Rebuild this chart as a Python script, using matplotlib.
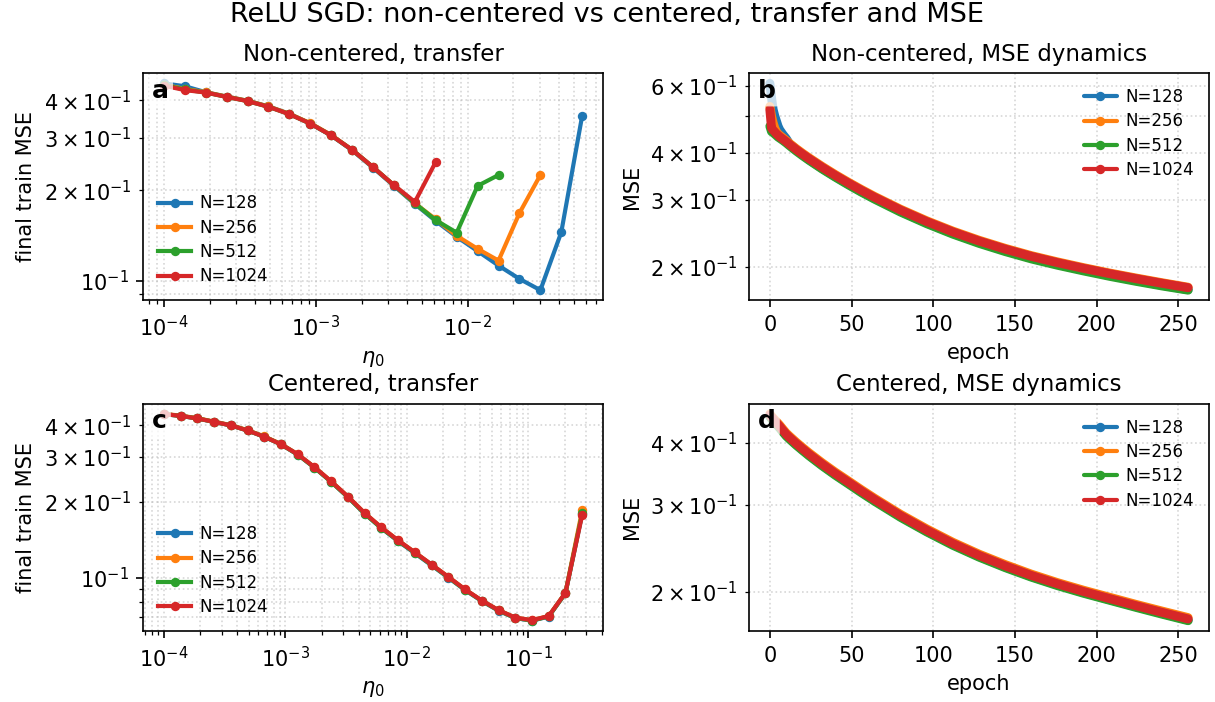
import numpy as np
import matplotlib
matplotlib.use('Agg')
import matplotlib.pyplot as plt

# learning-rate grid (same for both transfer panels)
eta0 = [1.000e-4, 1.373e-4, 1.885e-4, 2.588e-4, 3.554e-4, 4.881e-4, 6.702e-4,
        9.202e-4, 1.2635e-3, 1.735e-3, 2.382e-3, 3.271e-3, 4.492e-3, 6.168e-3,
        8.469e-3, 1.1629e-2, 1.5968e-2, 2.193e-2, 3.011e-2, 4.134e-2, 5.675e-2,
        7.793e-2, 0.1070, 0.1469, 0.2017, 0.2770]

widths = ['N=128', 'N=256', 'N=512', 'N=1024']
colors = ['tab:blue', 'tab:orange', 'tab:green', 'tab:red']

# panel a: non-centered final train MSE (runs stop once they diverge)
nc_128 = [0.455, 0.445, 0.425, 0.411, 0.398, 0.381, 0.360, 0.334, 0.305, 0.272, 0.238,
          0.207, 0.180, 0.158, 0.140, 0.1254, 0.1122, 0.1013, 0.0929, 0.145, 0.355]
nc_256 = [0.450, 0.436, 0.425, 0.411, 0.398, 0.381, 0.360, 0.335, 0.306, 0.273, 0.239,
          0.208, 0.181, 0.160, 0.141, 0.1276, 0.1166, 0.168, 0.225]
nc_512 = [0.449, 0.434, 0.424, 0.410, 0.397, 0.380, 0.359, 0.334, 0.305, 0.273, 0.239,
          0.208, 0.181, 0.159, 0.1445, 0.207, 0.225]
nc_1024 = [0.447, 0.432, 0.424, 0.410, 0.397, 0.380, 0.359, 0.334, 0.305, 0.273, 0.239,
           0.208, 0.183, 0.249]

# panel c: centered final train MSE
c_128 = [0.442, 0.435, 0.425, 0.412, 0.399, 0.381, 0.360, 0.336, 0.306, 0.272, 0.239, 0.208,
         0.179, 0.157, 0.1395, 0.125, 0.1120, 0.1002, 0.0895, 0.0810, 0.0742, 0.0694, 0.0678,
         0.0704, 0.0870, 0.179]
c_256 = [0.443, 0.436, 0.426, 0.413, 0.400, 0.382, 0.361, 0.337, 0.307, 0.273, 0.240, 0.209,
         0.180, 0.158, 0.1405, 0.126, 0.1128, 0.1009, 0.0900, 0.0814, 0.0746, 0.0697, 0.0681,
         0.0707, 0.0873, 0.185]
c_512 = [0.442, 0.435, 0.425, 0.412, 0.399, 0.381, 0.360, 0.336, 0.306, 0.272, 0.239, 0.208,
         0.179, 0.157, 0.140, 0.1255, 0.1124, 0.1005, 0.0897, 0.0812, 0.0744, 0.0695, 0.0679,
         0.0705, 0.0871, 0.180]
c_1024 = [0.442, 0.435, 0.425, 0.412, 0.399, 0.381, 0.360, 0.336, 0.307, 0.273, 0.240, 0.209,
          0.180, 0.158, 0.1405, 0.126, 0.1128, 0.1009, 0.0900, 0.0814, 0.0746, 0.0697, 0.0681,
          0.0707, 0.0873, 0.177]

# panels b, d: MSE vs epoch, read at these epochs
epochs = [0, 1, 2, 3, 4, 5, 6, 8, 10, 12, 16, 20, 24, 32, 40, 48, 56, 64, 80, 96, 112,
          128, 144, 160, 176, 192, 208, 224, 240, 256]

b_128 = [0.61, 0.56, 0.52, 0.50, 0.485, 0.47, 0.46, 0.447, 0.436, 0.4225, 0.4085, 0.3950,
         0.3830, 0.3634, 0.3460, 0.3302, 0.3158, 0.3028, 0.2799, 0.2609, 0.2449, 0.2316,
         0.2204, 0.2108, 0.2028, 0.1958, 0.1895, 0.1838, 0.1786, 0.1739]
b_256 = [0.53, 0.50, 0.48, 0.465, 0.455, 0.449, 0.445, 0.438, 0.431, 0.4235, 0.4105, 0.3987,
         0.3878, 0.368, 0.3503, 0.3344, 0.3199, 0.3067, 0.2836, 0.2644, 0.2483, 0.2349,
         0.2236, 0.2139, 0.2059, 0.1988, 0.1924, 0.1867, 0.1814, 0.1765]
b_512 = [0.47, 0.455, 0.452, 0.448, 0.444, 0.440, 0.437, 0.431, 0.4245, 0.4175, 0.4045, 0.3928,
         0.3820, 0.3623, 0.3449, 0.3291, 0.3147, 0.3017, 0.2788, 0.2598, 0.2438, 0.2305,
         0.2193, 0.2097, 0.2018, 0.1949, 0.1886, 0.1830, 0.1779, 0.1734]
b_1024 = [0.52, 0.465, 0.459, 0.454, 0.449, 0.445, 0.441, 0.4345, 0.428, 0.421, 0.4082, 0.3965,
          0.3857, 0.366, 0.3485, 0.3327, 0.3183, 0.3052, 0.2822, 0.2631, 0.2471, 0.2338,
          0.2226, 0.213, 0.205, 0.198, 0.1917, 0.186, 0.1808, 0.176]

d_128 = [0.4527, 0.4482, 0.4443, 0.4406, 0.4369, 0.4333, 0.4296, 0.4217, 0.4141, 0.4081,
         0.3971, 0.3871, 0.3775, 0.3604, 0.3451, 0.3313, 0.3180, 0.3057, 0.2835, 0.2649,
         0.2489, 0.2355, 0.2243, 0.2145, 0.2063, 0.1990, 0.1925, 0.1864, 0.1806, 0.1751]
d_256 = [0.4577, 0.4532, 0.4492, 0.4455, 0.4417, 0.4381, 0.4344, 0.4263, 0.4187, 0.4127,
         0.4015, 0.3913, 0.3817, 0.3644, 0.3489, 0.3350, 0.3215, 0.3090, 0.2866, 0.2678,
         0.2516, 0.2381, 0.2268, 0.2169, 0.2085, 0.2012, 0.1947, 0.1884, 0.1826, 0.1771]
d_512 = [0.4514, 0.4469, 0.4429, 0.4393, 0.4356, 0.4320, 0.4283, 0.4204, 0.4129, 0.4069,
         0.3959, 0.3859, 0.3764, 0.3593, 0.3440, 0.3303, 0.3170, 0.3047, 0.2826, 0.2641,
         0.2481, 0.2348, 0.2236, 0.2139, 0.2056, 0.1984, 0.1920, 0.1858, 0.1800, 0.1746]
d_1024 = [0.455, 0.4505, 0.4465, 0.4428, 0.4391, 0.4355, 0.4318, 0.4238, 0.4162, 0.4102,
          0.3991, 0.3890, 0.3794, 0.3622, 0.3468, 0.3330, 0.3196, 0.3072, 0.2849, 0.2662,
          0.2501, 0.2367, 0.2254, 0.2156, 0.2073, 0.2000, 0.1935, 0.1873, 0.1815, 0.1760]

fig, axs = plt.subplots(2, 2, figsize=(8.1, 4.68), dpi=150)
fig.subplots_adjust(left=0.1177, right=0.9951, top=0.896, bottom=0.1011, wspace=0.317, hspace=0.453)


def panel_label(ax, s):
    ax.text(0.02, 0.975, s, transform=ax.transAxes, fontsize=12, fontweight='bold',
            va='top', ha='left', zorder=10,
            bbox=dict(boxstyle='round,pad=0.15', facecolor='white', edgecolor='none', alpha=0.75))


def transfer(ax, series, title, label):
    for ys, c, lab in zip(series, colors, widths):
        ax.plot(eta0[:len(ys)], ys, marker='o', ms=3.5, lw=2, color=c, label=lab)
    ax.set_xscale('log')
    ax.set_yscale('log')
    ax.set_xlabel(r'$\eta_0$')
    ax.set_ylabel('final train MSE')
    ax.set_title(title, fontsize=11)
    ax.grid(True, which='both', ls=':', alpha=0.5)
    ax.legend(loc='lower left', fontsize=8, frameon=False, labelspacing=0.38, handletextpad=0.5)
    panel_label(ax, label)


def dynamics(ax, series, title, label):
    for ys, c, lab in zip(series, colors, widths):
        ax.plot(epochs, ys, lw=4.3, color=c, label=lab,
                solid_capstyle='round', solid_joinstyle='round')
    ax.set_yscale('log')
    ax.set_xlabel('epoch')
    ax.set_ylabel('MSE')
    ax.set_title(title, fontsize=11)
    ax.grid(True, which='both', ls=':', alpha=0.5)
    leg = ax.legend(loc='upper right', fontsize=8, frameon=False, labelspacing=0.38, handletextpad=0.5)
    for h in leg.legend_handles:
        h.set_linewidth(2)
        h.set_marker('o')
        h.set_markersize(3.5)
    panel_label(ax, label)


transfer(axs[0, 0], [nc_128, nc_256, nc_512, nc_1024], 'Non-centered, transfer', 'a')
dynamics(axs[0, 1], [b_128, b_256, b_512, b_1024], 'Non-centered, MSE dynamics', 'b')
transfer(axs[1, 0], [c_128, c_256, c_512, c_1024], 'Centered, transfer', 'c')
dynamics(axs[1, 1], [d_128, d_256, d_512, d_1024], 'Centered, MSE dynamics', 'd')

fig.suptitle('ReLU SGD: non-centered vs centered, transfer and MSE', fontsize=13, y=0.979, va='center')

fig.savefig('out.png', dpi=150)
